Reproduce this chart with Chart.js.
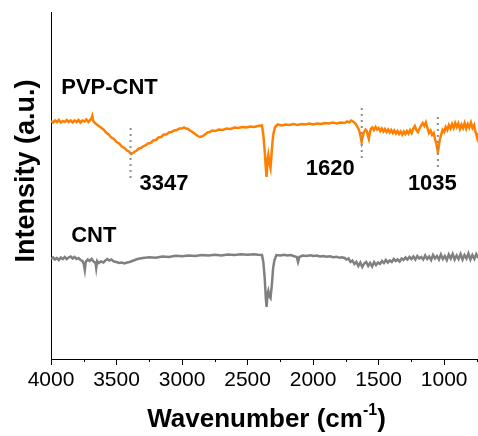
<!DOCTYPE html>
<html>
<head>
<meta charset="utf-8">
<script src="https://cdn.jsdelivr.net/npm/chart.js@4.4.1/dist/chart.umd.min.js"></script>
<style>
  html, body { margin: 0; padding: 0; background: #fff; }
  #wrap { width: 478px; height: 436px; }
</style>
</head>
<body>
<div id="wrap"><canvas id="ftir" width="478" height="436"></canvas></div>
<script>
// FTIR spectra, PVP-CNT vs CNT (transmittance, arbitrary units)

const pvpWavenumber = [
  4000, 3985, 3970, 3955, 3940, 3925, 3910, 3895, 3880, 3865, 3850, 3835, 3820, 3805, 3790, 3775,
  3760, 3745, 3730, 3715, 3700, 3690, 3685, 3678, 3665, 3650, 3635, 3620, 3600, 3580, 3560, 3540,
  3520, 3500, 3480, 3460, 3440, 3420, 3405, 3388, 3375, 3360, 3345, 3330, 3315, 3300, 3280, 3260,
  3240, 3220, 3200, 3180, 3160, 3140, 3120, 3100, 3080, 3060, 3040, 3020, 3000, 2985, 2970, 2955,
  2940, 2925, 2910, 2895, 2880, 2865, 2850, 2835, 2820, 2805, 2790, 2770, 2745, 2720, 2690, 2660,
  2630, 2600, 2570, 2540, 2510, 2480, 2450, 2420, 2390, 2380, 2370, 2360, 2355, 2348, 2342, 2335,
  2325, 2315, 2305, 2290, 2270, 2240, 2210, 2180, 2150, 2120, 2090, 2060, 2030, 2000, 1970, 1940,
  1910, 1880, 1850, 1820, 1790, 1760, 1740, 1725, 1710, 1695, 1680, 1670, 1660, 1650, 1640, 1630,
  1622, 1612, 1600, 1590, 1582, 1575, 1568, 1560, 1548, 1536, 1524, 1512, 1500, 1488, 1476, 1464,
  1452, 1440, 1428, 1416, 1404, 1392, 1380, 1368, 1356, 1344, 1332, 1320, 1308, 1296, 1284, 1272,
  1260, 1248, 1236, 1224, 1212, 1200, 1188, 1176, 1164, 1152, 1140, 1128, 1116, 1104, 1092, 1080,
  1070, 1060, 1052, 1048, 1042, 1034, 1024, 1012, 1000, 988, 976, 964, 952, 940, 928, 916,
  904, 892, 880, 868, 856, 844, 832, 820, 808, 796, 784, 772, 764, 756, 748, 740
];
const pvpIntensity = [
  238, 236.5, 238.5, 237, 239, 236.5, 238, 237, 239, 237, 238.5, 236.5, 238.5, 237, 239, 236.5,
  238.5, 237.5, 239.5, 237, 239, 241, 243, 238, 236, 234.5, 233, 231.5, 229.5, 226.5, 224.5, 221.5,
  220, 217, 215.5, 212.5, 211, 208.5, 207.5, 205, 206, 207.5, 208.5, 210.5, 211, 212.5, 213.5, 215.5,
  216, 218.5, 219, 221.5, 222, 224.5, 224.5, 226.5, 227, 228.5, 229, 230.5, 230.5, 231.5, 230.5, 230,
  228.5, 227.5, 226, 224.5, 223, 222, 222.5, 223.5, 225, 226.5, 227, 228.5, 228, 229.5, 229, 230.5,
  230, 231.5, 231, 232, 231.5, 232.5, 232, 233, 233.5, 224, 209, 189, 182, 199, 204, 197,
  191, 209, 224, 232, 234.5, 233.5, 234.5, 234, 235, 234, 235, 234.5, 235.5, 234.5, 235.5, 235,
  236, 235.5, 236.5, 235.5, 236.5, 236, 237.5, 236.5, 238.5, 237.5, 236, 234, 231.5, 229, 224, 217,
  222, 227, 229.5, 228, 223, 220, 226, 230, 231.5, 229, 232, 229.5, 231, 228, 230.5, 227.5,
  230, 227, 229.5, 226.5, 229, 226, 228.5, 225.5, 228, 225, 227.5, 224.5, 227.5, 225, 228, 225.5,
  229, 226, 230.5, 233, 229, 227, 230.5, 233.5, 236, 233, 236.5, 231, 226, 228.5, 224, 226,
  220, 215, 210, 206, 212, 219, 224, 229, 227, 232, 229, 234, 230.5, 235, 231, 236,
  232, 235.5, 230, 234.5, 231, 236, 230.5, 235, 231.5, 236.5, 231, 234, 228, 225, 221, 226
];

const cntWavenumber = [
  4000, 3985, 3970, 3955, 3940, 3925, 3910, 3895, 3880, 3865, 3850, 3835, 3820, 3805, 3790, 3775,
  3760, 3750, 3742, 3735, 3720, 3705, 3690, 3675, 3660, 3655, 3648, 3635, 3620, 3600, 3585, 3570,
  3555, 3540, 3520, 3500, 3480, 3460, 3440, 3420, 3400, 3380, 3360, 3340, 3320, 3300, 3250, 3200,
  3150, 3100, 3050, 3000, 2950, 2900, 2850, 2800, 2750, 2700, 2650, 2600, 2550, 2500, 2450, 2420,
  2390, 2380, 2370, 2360, 2355, 2348, 2342, 2335, 2325, 2315, 2305, 2295, 2280, 2250, 2220, 2200,
  2170, 2150, 2125, 2115, 2105, 2080, 2050, 2020, 2000, 1970, 1950, 1920, 1900, 1870, 1850, 1820,
  1800, 1780, 1760, 1745, 1730, 1715, 1700, 1685, 1670, 1655, 1640, 1625, 1610, 1595, 1580, 1565,
  1550, 1535, 1520, 1505, 1490, 1475, 1460, 1445, 1430, 1415, 1400, 1385, 1370, 1355, 1340, 1325,
  1310, 1295, 1280, 1265, 1250, 1235, 1220, 1205, 1190, 1175, 1160, 1145, 1130, 1115, 1100, 1085,
  1070, 1055, 1040, 1025, 1010, 995, 980, 965, 950, 935, 920, 905, 890, 875, 860, 845,
  830, 815, 800, 785, 770, 755, 740
];
const cntIntensity = [
  100, 101.5, 99.5, 101, 99, 101.5, 100, 102, 100, 101.5, 102.5, 100.5, 102, 100, 101, 99,
  98, 95, 89, 97, 99.5, 98, 100, 97.5, 96, 91, 98, 96, 97.5, 96.5, 98.5, 100,
  98.5, 99.5, 97.5, 97, 96, 96.5, 95.5, 96.5, 97, 98, 99, 100, 100.5, 101, 101.8, 101.2,
  102.5, 102, 103.2, 102.8, 103.6, 103, 104, 103.4, 104.2, 103.6, 104.5, 104, 104.8, 104.2, 104.8, 104.3,
  104, 97, 82, 59, 52, 65, 68, 63, 61, 74, 91, 99, 104, 103.5, 104.2, 103.5,
  104, 103, 102, 97, 102, 103.5, 103, 103.8, 103, 103.5, 102.6, 103, 102.2, 102.8, 101.8, 102.3,
  101.2, 101.8, 101, 99.5, 100.5, 97, 98.5, 95, 97, 93, 96.5, 92, 95.5, 97, 93, 96,
  92.5, 97, 94, 96.5, 95, 98, 96, 99, 96.5, 98.5, 97, 100, 98, 99.5, 97.5, 100.5,
  99, 101.5, 99.5, 102, 100, 102.5, 99.5, 103, 100.5, 102, 99.5, 103.5, 100, 102.5, 99, 104,
  100.5, 103, 99.5, 104.5, 100, 103, 99, 104.5, 100.5, 105, 99.5, 103.5, 100, 105, 99.5, 104,
  100.5, 105.5, 99.5, 104, 100, 105, 101
];

const peakLabels = ['3347', '1620', '1035'];
const peakWavenumber = [3393, 1629, 1048];
const peakTop = [231, 251, 242];
const peakBottom = [179, 199, 191];

const xMajorTicks = [4000, 3500, 3000, 2500, 2000, 1500, 1000];
const xMinorTicks = [3750, 3250, 2750, 2250, 1750, 1250, 750];

const FONT = '"Liberation Sans", Arial, Helvetica, sans-serif';

const toPoints = (xs, ys) => xs.map((x, i) => ({ x, y: ys[i] }));

const ftirDecor = {
  id: 'ftirDecor',
  afterDraw(chart) {
    const { ctx, chartArea, scales: { x, y } } = chart;
    ctx.save();

    // minor ticks on the wavenumber axis
    ctx.strokeStyle = '#000';
    ctx.lineWidth = 1;
    xMinorTicks.forEach(v => {
      const px = Math.round(x.getPixelForValue(v)) + 0.5;
      if (px > chartArea.right) return;
      ctx.beginPath();
      ctx.moveTo(px, chartArea.bottom);
      ctx.lineTo(px, chartArea.bottom + 3);
      ctx.stroke();
    });

    // trace and peak labels
    ctx.fillStyle = '#000';
    ctx.textBaseline = 'middle';
    ctx.font = 'bold 22px ' + FONT;
    const put = (text, wn, v, align) => {
      ctx.textAlign = align;
      ctx.fillText(text, x.getPixelForValue(wn), y.getPixelForValue(v));
    };
    put('PVP-CNT', 3922, 271, 'left');
    put('CNT', 3846, 123.5, 'left');
    put(peakLabels[0], 3324, 175.5, 'left');
    put(peakLabels[1], 1682, 190, 'right');
    put(peakLabels[2], 1277, 175.5, 'left');

    // x axis title with superscript
    const cx = (chartArea.left + chartArea.right) / 2 + 2;
    const ty = 420;
    ctx.textAlign = 'left';
    ctx.font = 'bold 26px ' + FONT;
    const main = 'Wavenumber (cm';
    const wMain = ctx.measureText(main).width;
    const wClose = ctx.measureText(')').width;
    ctx.font = 'bold 16px ' + FONT;
    const wSup = ctx.measureText('-1').width;
    let sx = cx - (wMain + wSup + wClose) / 2;
    ctx.font = 'bold 26px ' + FONT;
    ctx.fillText(main, sx, ty);
    sx += wMain;
    ctx.font = 'bold 16px ' + FONT;
    ctx.fillText('-1', sx, ty - 9);
    sx += wSup;
    ctx.font = 'bold 26px ' + FONT;
    ctx.fillText(')', sx, ty);

    // y axis title
    ctx.translate(27, chartArea.top + 159);
    ctx.rotate(-Math.PI / 2);
    ctx.textAlign = 'center';
    ctx.font = 'bold 27px ' + FONT;
    ctx.fillText('Intensity (a.u.)', 0, 0);

    ctx.restore();
  }
};

const peakSets = peakWavenumber.map((wn, i) => ({
  label: peakLabels[i],
  data: [{ x: wn, y: peakTop[i] }, { x: wn, y: peakBottom[i] }],
  borderColor: '#8c8c8c',
  borderWidth: 2,
  borderDash: [2, 4],
  pointRadius: 0,
  order: 0
}));

new Chart(document.getElementById('ftir'), {
  type: 'line',
  data: {
    datasets: [
      {
        label: 'PVP-CNT',
        data: toPoints(pvpWavenumber, pvpIntensity),
        borderColor: '#ff8000',
        borderWidth: 2.5,
        pointRadius: 0,
        tension: 0,
        order: 1
      },
      {
        label: 'CNT',
        data: toPoints(cntWavenumber, cntIntensity),
        borderColor: '#808080',
        borderWidth: 2.5,
        pointRadius: 0,
        tension: 0,
        order: 1
      },
      ...peakSets
    ]
  },
  options: {
    responsive: false,
    animation: false,
    devicePixelRatio: 1,
    layout: { padding: { top: 12, left: 0, right: 0, bottom: 0 } },
    plugins: {
      legend: { display: false },
      tooltip: { enabled: false }
    },
    scales: {
      x: {
        type: 'linear',
        reverse: true,
        min: 742,
        max: 4000,
        afterBuildTicks: s => { s.ticks = xMajorTicks.map(v => ({ value: v })); },
        afterFit: s => { s.height = 77; },
        grid: { display: true, drawOnChartArea: false, drawTicks: true, tickLength: 6, color: '#000', lineWidth: 1 },
        border: { display: true, color: '#000', width: 1 },
        ticks: {
          color: '#000',
          padding: 3,
          maxRotation: 0,
          autoSkip: false,
          font: { family: FONT, size: 21 },
          callback: v => String(v)
        }
      },
      y: {
        min: 0,
        max: 347,
        afterFit: s => { s.width = 51; },
        ticks: { display: false },
        grid: { display: false, drawTicks: false },
        border: { display: true, color: '#000', width: 1 }
      }
    }
  },
  plugins: [ftirDecor]
});
</script>
</body>
</html>
